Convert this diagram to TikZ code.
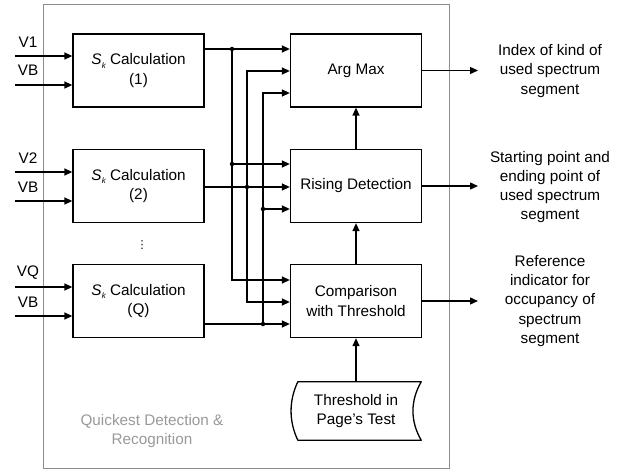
\documentclass[tikz,border=0pt]{standalone}
\usepackage{fontspec}
\setmainfont{Liberation Sans}
\newfontfamily\djv{DejaVu Sans}
\usetikzlibrary{arrows.meta}
\newcommand\SkLbl{{\itshape S}\kern0.3pt\raisebox{-0.45ex}{\fontsize{8}{8}\selectfont\itshape k}}
\begin{document}
\begin{tikzpicture}[x=1pt,y=-1pt,
  font=\fontsize{15.3}{19.3}\selectfont,
  blk/.style={draw, line width=1.3pt, minimum width=131pt, minimum height=73pt, inner sep=0pt, align=center},
  wire/.style={line width=1.3pt},
  arr/.style={wire, -{Triangle[length=8pt,width=7pt]}},
  dot/.style={circle, fill, inner sep=0pt, minimum size=4.5pt},
  lbl/.style={align=center, inner sep=0pt}]
\useasboundingbox (0,0) rectangle (629,473);
\draw[gray!90, line width=1pt] (43,5) rectangle (449,468);

% blocks
\node[blk] (s1) at (138.5,70.5) {\SkLbl{} Calculation\\(1)};
\node[blk] (s2) at (138.5,186) {\SkLbl{} Calculation\\(2)};
\node[blk] (sq) at (138.5,301) {\SkLbl{} Calculation\\(Q)};
\node[blk] (am) at (356,70.5) {Arg Max};
\node[blk] (rd) at (356,186) {Rising Detection};
\node[blk] (ct) at (356,301) {Comparison\\with Threshold};
\node[lbl, minimum width=130pt, minimum height=58pt] (thr) at (356,411) {Threshold in\\Page's Test};
\draw[wire, line join=round] ([xshift=7pt]thr.north west) -- (thr.north east)
  .. controls +(-11,19) and +(-11,-19) .. (thr.south east)
  -- ([xshift=7pt]thr.south west)
  .. controls +(-9,-19) and +(-9,19) .. ([xshift=7pt]thr.north west) -- cycle;

\node[lbl, font=\djv\fontsize{11}{11}\selectfont] (vd) at (142,245) {⋮};

% inputs
\coordinate (i1) at (15,56); \coordinate (i2) at (15,85);
\coordinate (i3) at (15,172); \coordinate (i4) at (15,201);
\coordinate (i5) at (15,287); \coordinate (i6) at (15,316);
\draw[arr] (i1) -- (i1 -| s1.west);
\draw[arr] (i2) -- (i2 -| s1.west);
\draw[arr] (i3) -- (i3 -| s2.west);
\draw[arr] (i4) -- (i4 -| s2.west);
\draw[arr] (i5) -- (i5 -| sq.west);
\draw[arr] (i6) -- (i6 -| sq.west);
\node[lbl] (l1) at (28,42) {V1};
\node[lbl] (l2) at (28,70) {VB};
\node[lbl] (l3) at (28,158) {V2};
\node[lbl] (l4) at (28,187) {VB};
\node[lbl] (l5) at (28,273) {VQ};
\node[lbl] (l6) at (28,302) {VB};

% bus A
\coordinate (a1) at (232,49); \coordinate (a2) at (232,164); \coordinate (a3) at (232,280);
\draw[arr] (s1.east |- a1) -- (a1 -| am.west);
\draw[arr] (a1) -- (a3) -- (a3 -| ct.west);
\draw[arr] (a2) -- (a2 -| rd.west);
% bus B
\coordinate (b1) at (247,71); \coordinate (b2) at (247,187); \coordinate (b3) at (247,302);
\draw[arr] (s2.east |- b2) -- (b2 -| rd.west);
\draw[arr] (b2) -- (b1) -- (b1 -| am.west);
\draw[arr] (b2) -- (b3) -- (b3 -| ct.west);
% bus C
\coordinate (c1) at (263,93); \coordinate (c2) at (263,209); \coordinate (c3) at (263,324);
\draw[arr] (sq.east |- c3) -- (c3 -| ct.west);
\draw[arr] (c3) -- (c1) -- (c1 -| am.west);
\draw[arr] (c2) -- (c2 -| rd.west);
\foreach \p in {a1,a2,b2,c2,c3} \node[dot] at (\p) {};

% vertical
\draw[arr] (rd.north) -- (am.south);
\draw[arr] (ct.north) -- (rd.south);
\draw[arr] (thr.north) -- (ct.south);

% outputs
\coordinate (o1) at (478,70.5); \coordinate (o2) at (478,186); \coordinate (o3) at (478,301);
\draw[arr] (am.east) -- (o1);
\draw[arr] (rd.east) -- (o2);
\draw[arr] (ct.east) -- (o3);
\node[lbl] (t1) at (550,71) {Index of kind of\\used spectrum\\segment};
\node[lbl] (t2) at (550,187) {Starting point and\\ending point of\\used spectrum\\segment};
\node[lbl] (t3) at (550,301) {Reference\\indicator for\\occupancy of\\spectrum\\segment};

\node[lbl, text=gray!80] (q) at (152,431) {Quickest Detection \&\\Recognition};
\end{tikzpicture}
\end{document}
